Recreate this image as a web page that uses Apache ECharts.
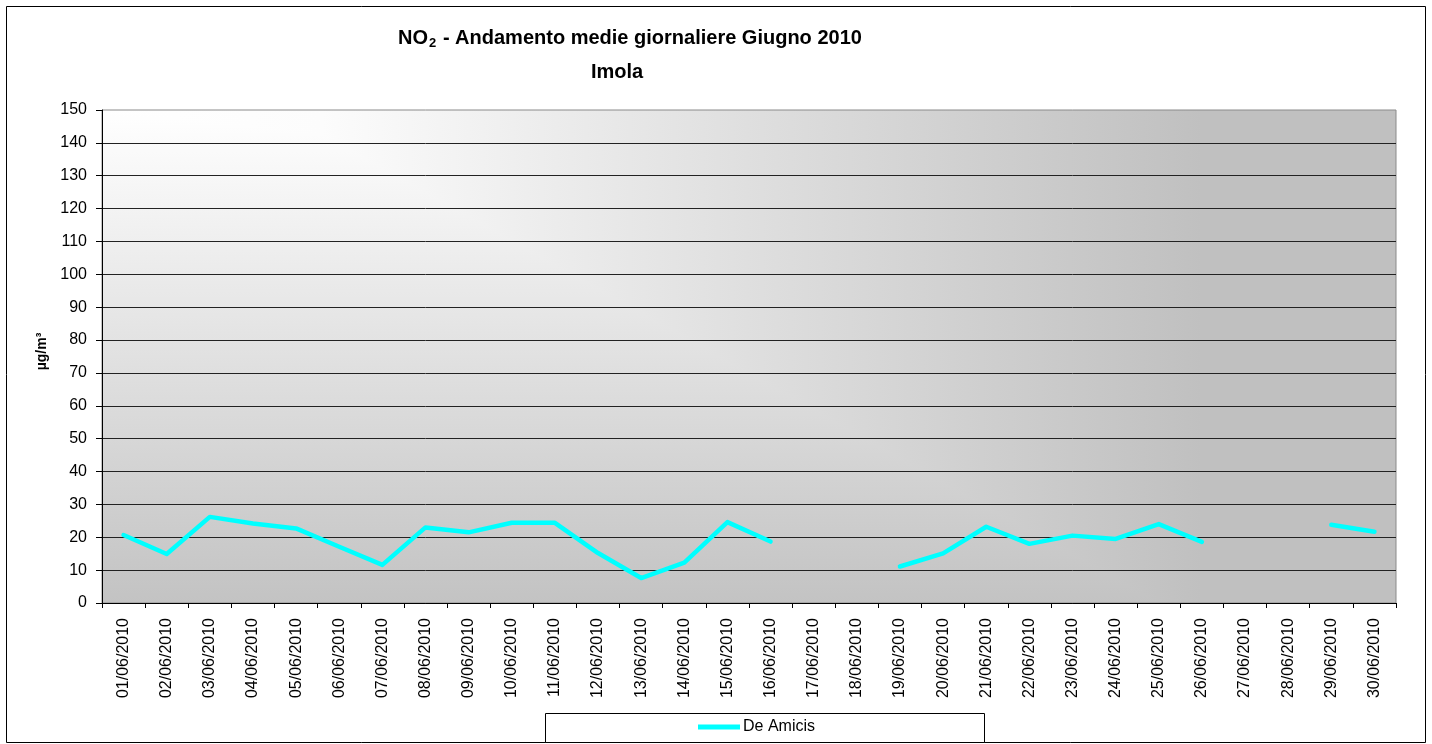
<!DOCTYPE html>
<html>
<head>
<meta charset="utf-8">
<script src="https://cdn.jsdelivr.net/npm/echarts@6/dist/echarts.min.js"></script>
<style>
html,body{margin:0;padding:0;background:#fff;}
#c{width:1432px;height:744px;}
</style>
</head>
<body>
<div id="c"></div>
<script>
// ---- data ----
const categories = ['01/06/2010','02/06/2010','03/06/2010','04/06/2010','05/06/2010','06/06/2010','07/06/2010','08/06/2010','09/06/2010','10/06/2010',
  '11/06/2010','12/06/2010','13/06/2010','14/06/2010','15/06/2010','16/06/2010','17/06/2010','18/06/2010','19/06/2010','20/06/2010',
  '21/06/2010','22/06/2010','23/06/2010','24/06/2010','25/06/2010','26/06/2010','27/06/2010','28/06/2010','29/06/2010','30/06/2010'];
const seriesName = 'De Amicis';
const deAmicis = [20.7, 14.9, 26.2, 24.2, 22.7, 17.1, 11.6, 23.0, 21.5, 24.4,
  24.4, 15.2, 7.6, 12.3, 24.6, 18.7, null, null, 11.1, 15.1,
  23.2, 18.0, 20.5, 19.5, 24.0, 18.6, null, null, 23.8, 21.7];
const yMin = 0, yMax = 150, yStep = 10;
const titleMain = 'NO';
const titleSub = '2';
const titleRest = ' - Andamento medie giornaliere Giugno 2010';
const titleLine2 = 'Imola';
const yName = 'µg/m³';

const FONT = "'Liberation Sans', Arial, sans-serif";
const G = {left: 102, right: 36, top: 110, bottom: 141};
const gx = G.left, gy = G.top, gw = 1432 - G.left - G.right, gh = 744 - G.top - G.bottom;

const chart = echarts.init(document.getElementById('c'), null, {renderer: 'canvas'});
chart.setOption({
  animation: false,
  backgroundColor: '#ffffff',
  graphic: [
    {type: 'rect', shape: {x: 6.5, y: 6.5, width: 1419, height: 736}, style: {fill: 'none', stroke: '#000', lineWidth: 1}, z: -10, silent: true},
    {type: 'rect', shape: {x: gx, y: gy, width: gw, height: gh}, z: -8, silent: true,
      style: {fill: new echarts.graphic.LinearGradient(0, 0, 1, 0, [
        {offset: 0, color: '#ffffff'}, {offset: 0.17, color: '#fcfcfc'},
        {offset: 0.85, color: '#c0c0c0'}, {offset: 1, color: '#c0c0c0'}])}},
    {type: 'rect', shape: {x: gx, y: gy, width: gw, height: gh}, z: -7, silent: true,
      style: {blend: 'darken', fill: new echarts.graphic.LinearGradient(0, 0, 0, 1, [
        {offset: 0, color: '#ffffff'}, {offset: 1, color: '#c3c3c3'}])}},
    {type: 'text', x: 630, y: 38, style: {
      text: '{a|' + titleMain + '}{s|' + titleSub + '}{a|' + titleRest + '}',
      align: 'center', verticalAlign: 'middle',
      rich: {
        a: {fontFamily: FONT, fontSize: 20, fontWeight: 'bold', fill: '#000', lineHeight: 24},
        s: {fontFamily: FONT, fontSize: 13, fontWeight: 'bold', fill: '#000', padding: [10, 1, 0, 1], lineHeight: 13}
      }
    }, z: 10},
    {type: 'text', x: 617, y: 72, style: {text: titleLine2, align: 'center', verticalAlign: 'middle',
      fontFamily: FONT, fontSize: 20, fontWeight: 'bold', fill: '#000'}, z: 10},
    {type: 'rect', shape: {x: 545.5, y: 713.5, width: 439, height: 29}, style: {fill: '#fff', stroke: '#000', lineWidth: 1}, z: 0, silent: true}
  ],
  legend: {
    left: 698, top: 719, padding: 0,
    icon: 'rect', itemWidth: 42, itemHeight: 5,
    textStyle: {fontFamily: FONT, fontSize: 16, color: '#000', padding: [0, 0, 0, -2]},
    data: [seriesName], z: 5
  },
  grid: {
    left: G.left, right: G.right, top: G.top, bottom: G.bottom,
    show: true, borderColor: '#8a8a8a', borderWidth: 1,
    backgroundColor: 'transparent'
  },
  xAxis: {
    type: 'category', data: categories, boundaryGap: true,
    axisLine: {show: true, lineStyle: {color: '#000', width: 1}},
    axisTick: {show: true, interval: 0, length: 5, lineStyle: {color: '#000'}},
    axisLabel: {interval: 0, rotate: 90, margin: 15, fontFamily: FONT, fontSize: 16, color: '#000'},
    splitLine: {show: false}
  },
  yAxis: {
    type: 'value', min: yMin, max: yMax, interval: yStep,
    name: yName, nameLocation: 'middle', nameRotate: 90, nameGap: 52,
    nameTextStyle: {fontFamily: FONT, fontSize: 14, fontWeight: 'bold', color: '#000', padding: [0, 0, 0, 10]},
    axisLine: {show: true, lineStyle: {color: '#000', width: 1}},
    axisTick: {show: true, length: 6, lineStyle: {color: '#000'}},
    axisLabel: {margin: 15, fontFamily: FONT, fontSize: 16, color: '#000'},
    splitLine: {show: true, showMaxLine: false, lineStyle: {color: '#222', width: 1}}
  },
  series: [{
    name: seriesName, type: 'line', data: deAmicis,
    symbol: 'none', connectNulls: false,
    color: '#00ffff',
    lineStyle: {color: '#00ffff', width: 4.5, cap: 'round', join: 'round'},
    itemStyle: {color: '#00ffff'}
  }]
});
</script>
</body>
</html>
